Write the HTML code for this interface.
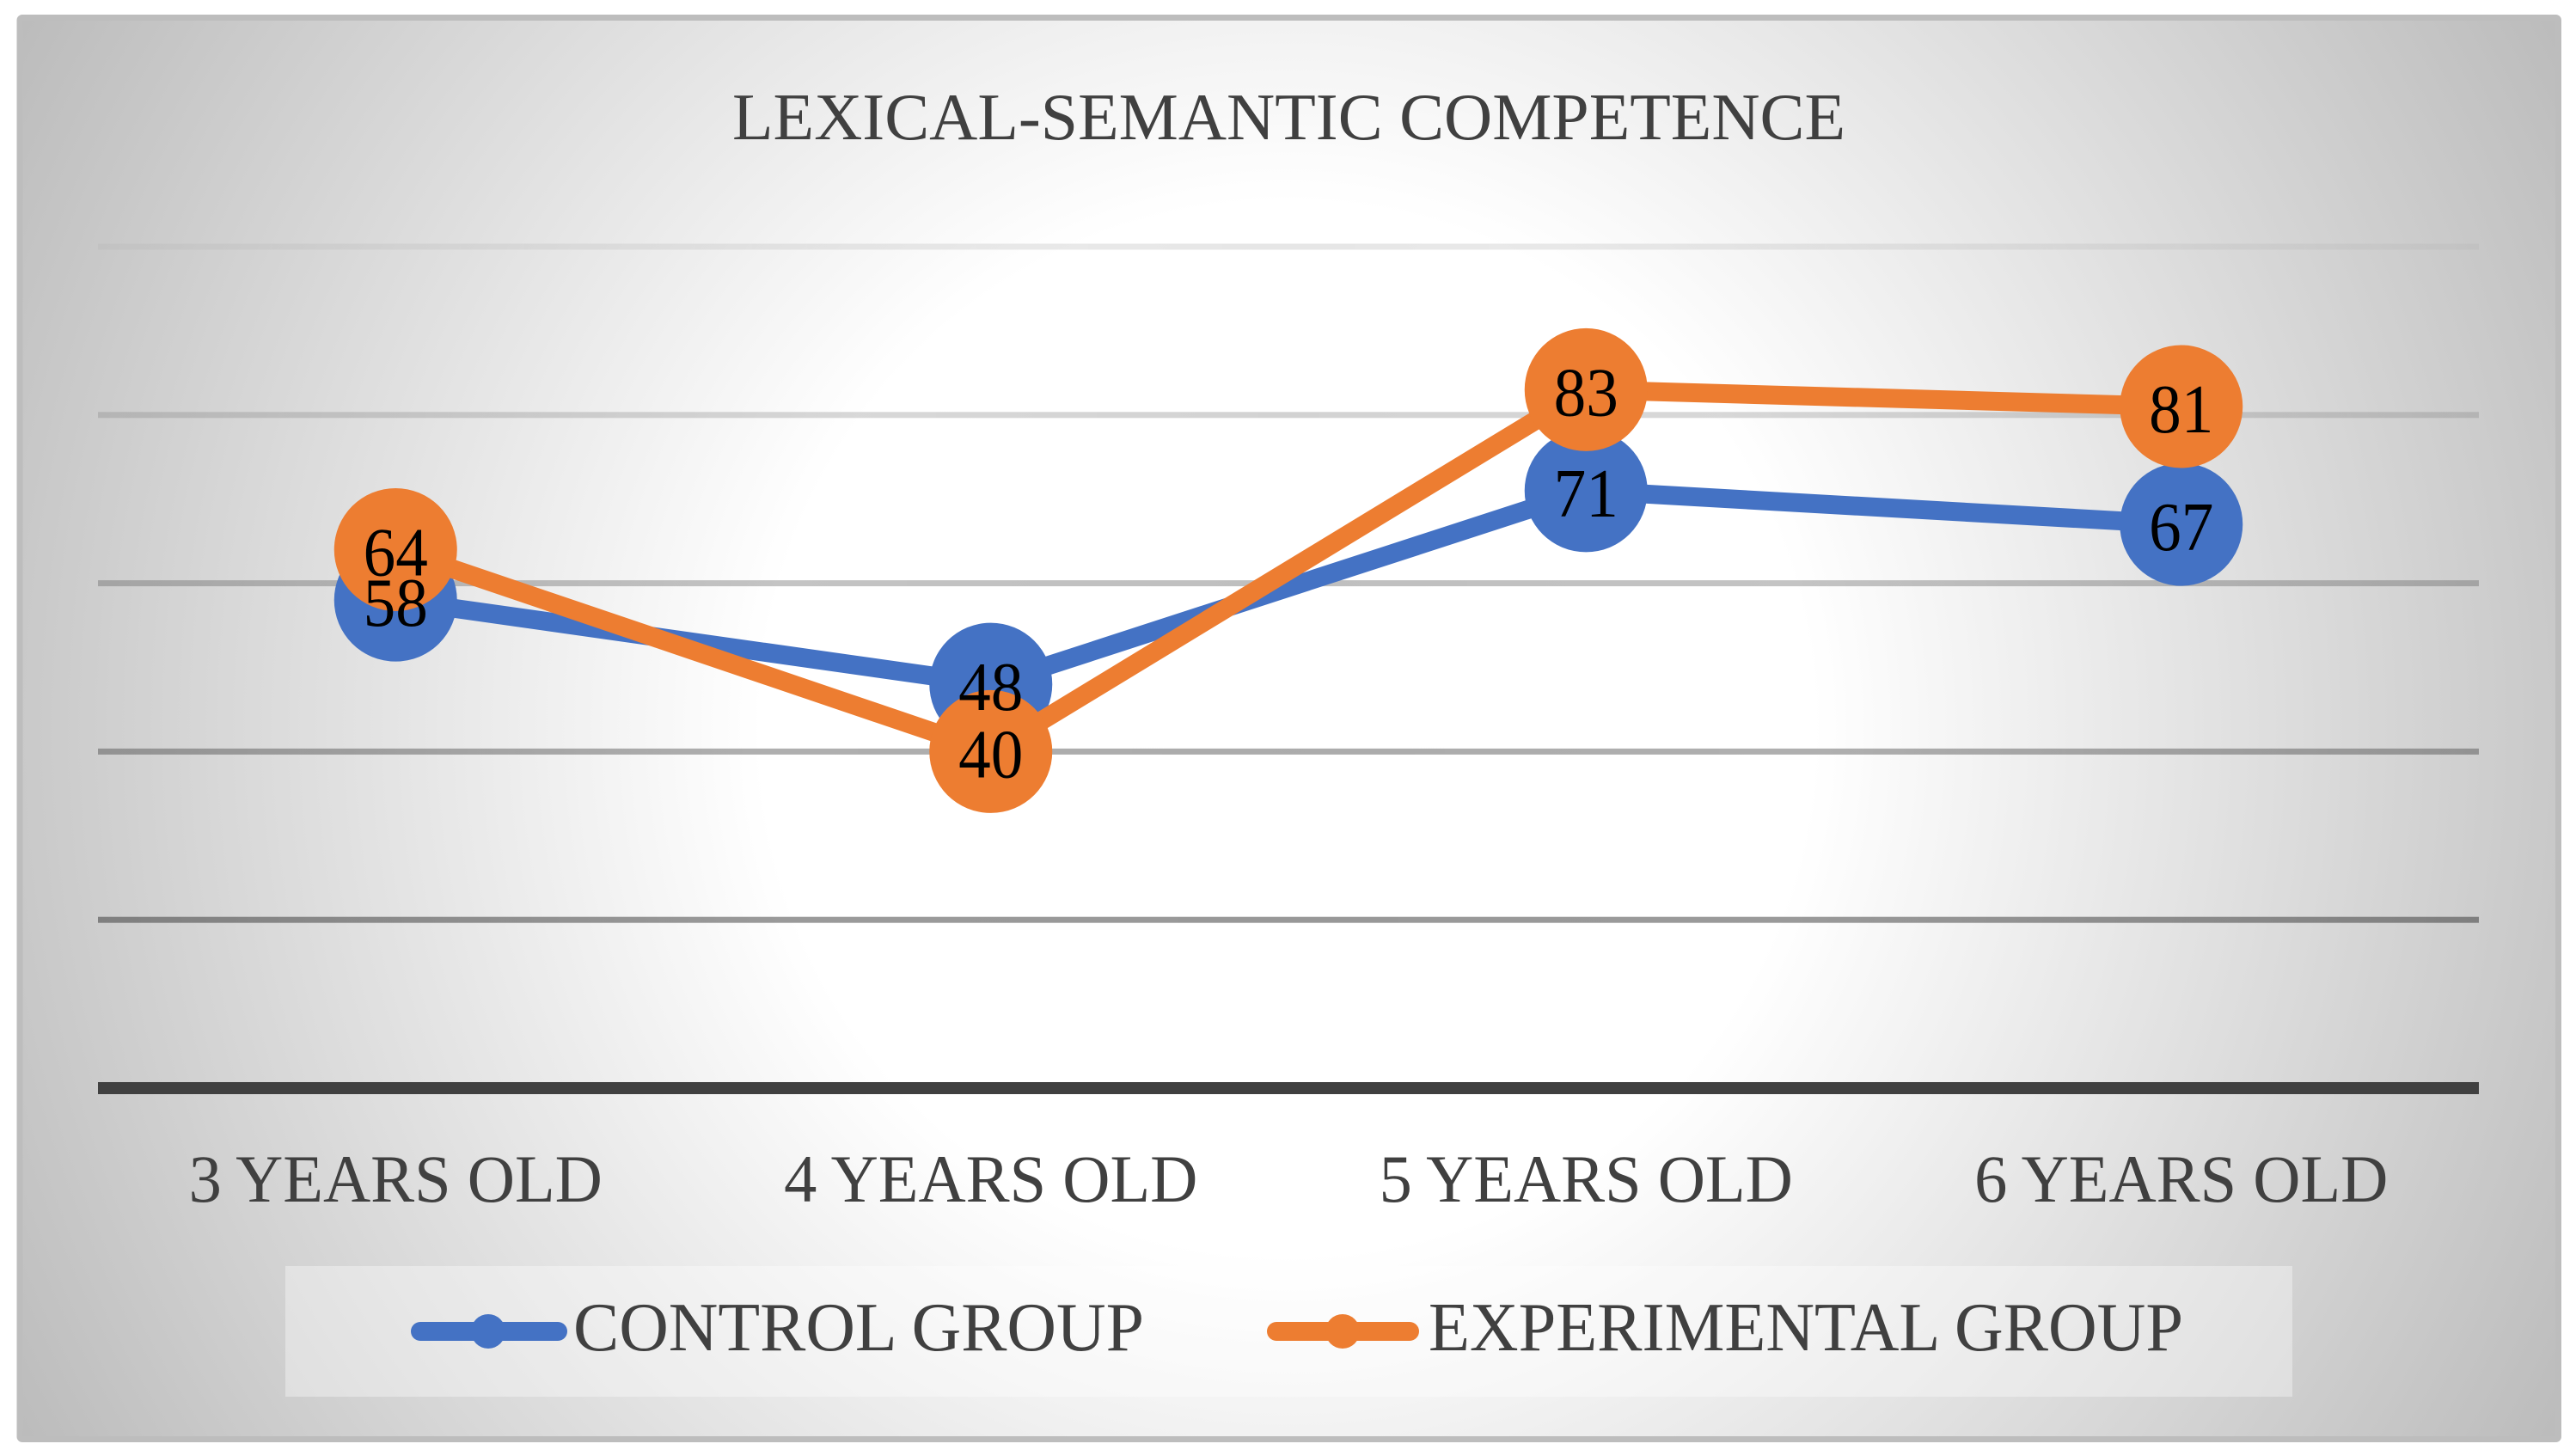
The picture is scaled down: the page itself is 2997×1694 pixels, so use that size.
<!DOCTYPE html>
<html lang="en">
<head>
<meta charset="utf-8">
<title>Lexical-Semantic Competence</title>
<style>
html,body{margin:0;padding:0;background:#fff;width:2997px;height:1694px;overflow:hidden}
svg{display:block}
text{font-family:"Liberation Serif",serif}
</style>
</head>
<body>
<svg id="chart" xmlns="http://www.w3.org/2000/svg" width="2997" height="1694" viewBox="0 0 2997 1694">
  <defs id="defs">
    <radialGradient id="bg" gradientUnits="userSpaceOnUse" cx="1498" cy="848" r="1700">
      <stop offset="0" stop-color="#ffffff"/>
      <stop offset="0.36" stop-color="#ffffff"/>
      <stop offset="1" stop-color="#bbbbbb"/>
    </radialGradient>
  </defs>
  <rect x="23" y="20.5" width="2953.5" height="1654" rx="3" fill="url(#bg)" stroke="#bdbdbd" stroke-width="7"/>
  <text x="1499.5" y="162" font-size="77" fill="#404040" text-anchor="middle" textLength="1295" lengthAdjust="spacingAndGlyphs">LEXICAL-SEMANTIC COMPETENCE</text>
  <g id="grid"></g>
  <g id="x-axis"></g>
  <g id="series"></g>
  <g id="labels"></g>
  <g>
    <rect x="332" y="1473" width="2335" height="152" fill="#ffffff" fill-opacity="0.36"/>
    <g>
      <line x1="489" y1="1549" x2="649" y2="1549" stroke="#4472c4" stroke-width="22" stroke-linecap="round"/>
      <circle cx="568" cy="1549" r="20" fill="#4472c4"/>
      <text x="667" y="1571" font-size="80" fill="#404040" textLength="664" lengthAdjust="spacingAndGlyphs">CONTROL GROUP</text>
    </g>
    <g>
      <line x1="1485" y1="1549" x2="1640" y2="1549" stroke="#ed7d31" stroke-width="22" stroke-linecap="round"/>
      <circle cx="1562" cy="1549" r="20" fill="#ed7d31"/>
      <text x="1662" y="1571" font-size="80" fill="#404040" textLength="878" lengthAdjust="spacingAndGlyphs">EXPERIMENTAL GROUP</text>
    </g>
  </g>
</svg>
<script>
const categories = ["3 YEARS OLD", "4 YEARS OLD", "5 YEARS OLD", "6 YEARS OLD"];
const controlValues = [58, 48, 71, 67];
const experimentalValues = [64, 40, 83, 81];
const gridTicks = [20, 40, 60, 80, 100];

const NS = "http://www.w3.org/2000/svg";
const plotLeft = 114, plotRight = 2884, axisZeroY = 1266, pxPerUnit = 9.79;
const band = (plotRight - plotLeft) / categories.length;
function xScale(i) { return plotLeft + band * (i + 0.5); }
function yScale(v) { return axisZeroY - v * pxPerUnit; }
function make(tag, attrs) {
  const el = document.createElementNS(NS, tag);
  for (const k in attrs) el.setAttribute(k, attrs[k]);
  return el;
}

const defs = document.getElementById("defs");
const gridG = document.getElementById("grid");
gridTicks.forEach(function (t) {
  const edge = (0.47 - 0.0044 * t).toFixed(3);
  const mid = (0.48 - 0.0038 * t).toFixed(3);
  const grad = make("linearGradient", { id: "grid-fade-" + t, x1: 0, y1: 0, x2: 1, y2: 0 });
  grad.appendChild(make("stop", { offset: 0, "stop-color": "#000", "stop-opacity": edge }));
  grad.appendChild(make("stop", { offset: 0.5, "stop-color": "#000", "stop-opacity": mid }));
  grad.appendChild(make("stop", { offset: 1, "stop-color": "#000", "stop-opacity": edge }));
  defs.appendChild(grad);
  const g = make("rect", { x: plotLeft, y: yScale(t) - 3.5, width: plotRight - plotLeft, height: 7, fill: "url(#grid-fade-" + t + ")" });
  
  
  gridG.appendChild(g);
});

const axisG = document.getElementById("x-axis");
const axisLine = make("rect", { x: plotLeft, y: axisZeroY - 7, width: plotRight - plotLeft, height: 14, fill: "#404040" });


axisG.appendChild(axisLine);
categories.forEach(function (c, i) {
  const t = make("text", { x: xScale(i), y: 1398, "font-size": 78, fill: "#404040", "text-anchor": "middle" });
  
  
  t.textContent = c;
  axisG.appendChild(t);
  t.setAttribute("textLength", (t.getComputedTextLength() * 0.98).toFixed(1));
  t.setAttribute("lengthAdjust", "spacingAndGlyphs");
});

const seriesG = document.getElementById("series");
const labelsG = document.getElementById("labels");
function drawSeries(values, color, key) {
  const pts = values.map(function (v, i) { return xScale(i) + "," + yScale(v); }).join(" ");
  const line = make("polyline", { points: pts, fill: "none", stroke: color, "stroke-width": 22, "stroke-linejoin": "round", "stroke-linecap": "round" });
  
  
  seriesG.appendChild(line);
  values.forEach(function (v, i) {
    const p = make("circle", { cx: xScale(i), cy: yScale(v), r: 71.5, fill: color });
    
    
    seriesG.appendChild(p);
  });
}
function drawLabels(values, key) {
  values.forEach(function (v, i) {
    const t = make("text", { x: xScale(i), y: yScale(v) + 30, "font-size": 80, fill: "#000", "text-anchor": "middle" });
    
    
    t.textContent = String(v);
    labelsG.appendChild(t);
    t.setAttribute("textLength", (t.getComputedTextLength() * 0.94).toFixed(1));
    t.setAttribute("lengthAdjust", "spacingAndGlyphs");
  });
}
drawSeries(controlValues, "#4472c4", "control");
drawSeries(experimentalValues, "#ed7d31", "experimental");
drawLabels(controlValues, "control");
drawLabels(experimentalValues, "experimental");
</script>
</body>
</html>
